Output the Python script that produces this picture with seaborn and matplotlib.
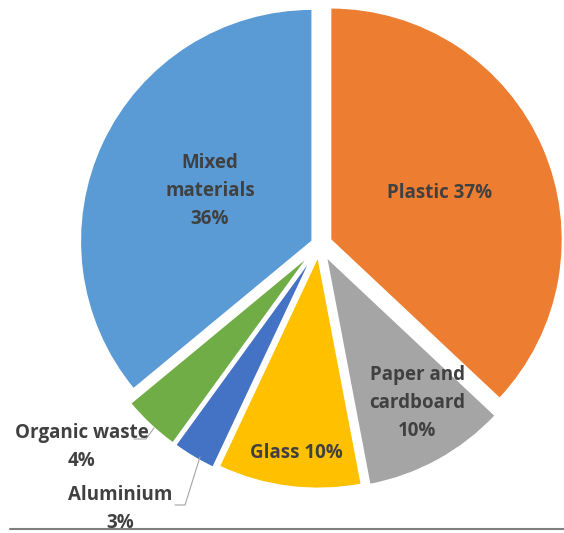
import matplotlib.pyplot as plt
import seaborn as sns

# Waste composition (share of total, %)
categories = ["Plastic", "Paper and\ncardboard", "Glass", "Aluminium", "Organic waste", "Mixed\nmaterials"]
shares = [37, 10, 10, 3, 4, 36]
colors = ["#ED7D31", "#A5A5A5", "#FFC000", "#4472C4", "#70AD47", "#5B9BD5"]

sns.set_theme(style="white")
plt.rcParams['font.family'] = ['Open Sans', 'DejaVu Sans']

fig = plt.figure(figsize=(5.64, 5.33), dpi=100)
ax = fig.add_axes([0, 0, 1, 1])

# pixel layout of the pie (y measured from bottom); explode is in pixels here
cx, cy, R = 319.5, 288.5, 232
explode = [12, 14, 12, 15, 15, 8]

wedges, _ = ax.pie(shares, colors=colors, startangle=90, counterclock=False,
                   center=(cx, cy), radius=R, explode=explode,
                   wedgeprops=dict(linewidth=1.2, edgecolor="white"), frame=True)
ax.set_xlim(0, 564)
ax.set_ylim(0, 533)
ax.set_aspect('equal')
ax.axis('off')

txt = dict(color="#404040", fontsize=13.5, fontweight='bold', ha='center', va='center',
           linespacing=1.55)

# inside labels
ax.text(440, 533 - 193, f"{categories[0]} {shares[0]}%", **txt)
ax.text(417, 533 - 403, f"{categories[1]}\n{shares[1]}%", **txt)
ax.text(296, 533 - 453, f"{categories[2]} {shares[2]}%", **txt)
ax.text(210, 533 - 191, f"{categories[5]}\n{shares[5]}%", **txt)

# outside labels with leader lines
ax.text(82, 533 - 447, f"{categories[4]}\n{shares[4]}%", **txt)
ax.plot([134, 146, 154], [533 - 439, 533 - 439, 533 - 428], color="#A5A5A5", lw=0.8)
ax.text(120, 533 - 509, f"{categories[3]}\n{shares[3]}%", **txt)
ax.plot([175, 185, 200], [533 - 505, 533 - 505, 533 - 457], color="#A5A5A5", lw=0.8)

# bottom border line
ax.plot([10, 564], [533 - 529, 533 - 529], color="#7F7F7F", lw=1.5, clip_on=False)

fig.savefig("out.png", dpi=100)
